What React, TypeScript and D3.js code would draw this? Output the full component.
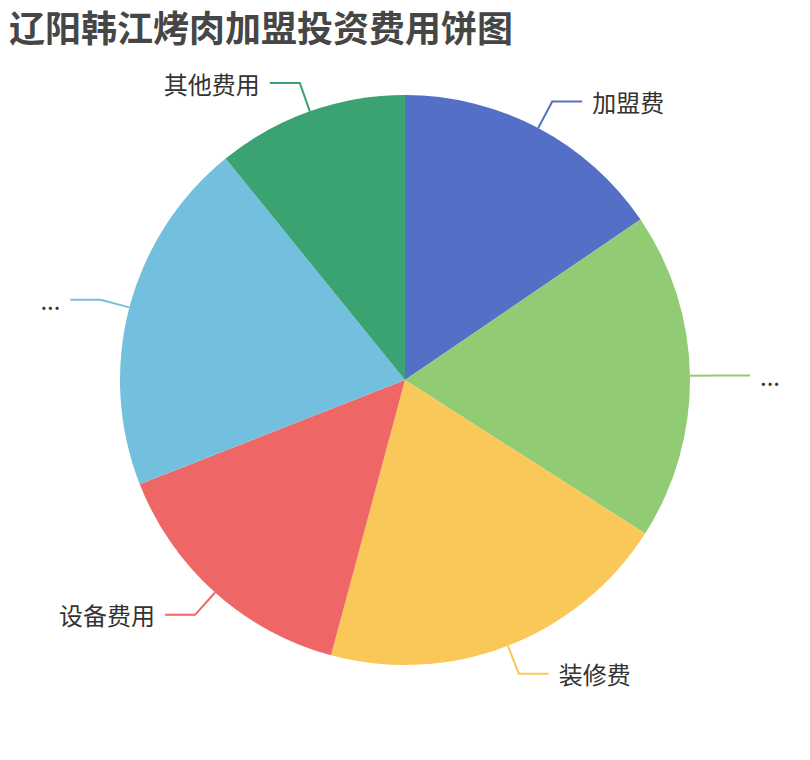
import * as d3 from "d3";

const title = "辽阳韩江烤肉加盟投资费用饼图";
const labels = ["加盟费", "...", "装修费", "设备费用", "...", "其他费用"];
const values = [5, 6, 6.5, 4.8, 6.5, 3.5];
const colors = ["#5470c6", "#91cc75", "#fac858", "#ee6666", "#73c0de", "#3ba272"];

const width = 810;
const height = 760;
const cx = 405;
const cy = 380;
const radius = 285;
const lineLen = 30;
const lineLen2 = 30;
const labelGap = 10;
const fontFamily = "'Noto Sans CJK SC', 'Noto Sans', sans-serif";

export default function App() {
  const pie = d3.pie<number>().sort(null).value((d) => d);
  const arcs = pie(values);
  const arc = d3.arc<d3.PieArcDatum<number>>().innerRadius(0).outerRadius(radius);

  return (
    <svg width={width} height={height} style={{ position: "absolute", top: 0, left: 0, fontFamily }}>
      <rect width={width} height={height} fill="#ffffff" />
      <text x={9} y={42} fontSize={36} fontWeight="bold" fill="#464646">{title}</text>
      <g transform={`translate(${cx}, ${cy})`}>
        {arcs.map((a, i) => (
          <path key={`s-${i}`} d={arc(a) ?? ""} fill={colors[i]} />
        ))}
        {arcs.map((a, i) => {
          const mid = (a.startAngle + a.endAngle) / 2;
          const [x0, y0] = d3.pointRadial(mid, radius);
          const [x1, y1] = d3.pointRadial(mid, radius + lineLen);
          const right = x1 >= 0;
          const x2 = x1 + (right ? lineLen2 : -lineLen2);
          return (
            <g key={`l-${i}`}>
              <polyline points={`${x0},${y0} ${x1},${y1} ${x2},${y1}`} fill="none" stroke={colors[i]} strokeWidth={2} />
              <text x={x2 + (right ? labelGap : -labelGap)} y={y1} dominantBaseline="central" textAnchor={right ? "start" : "end"} fontSize={24} fill="#333333">
                {labels[i]}
              </text>
            </g>
          );
        })}
      </g>
    </svg>
  );
}
